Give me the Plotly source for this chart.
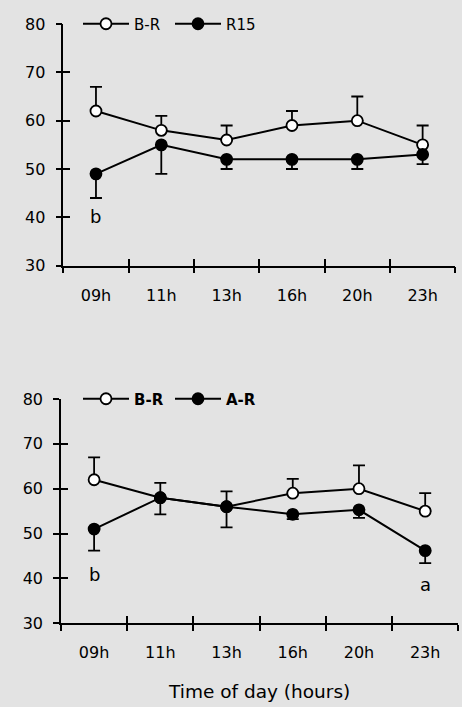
import plotly.graph_objects as go

# ---- data ----
times = ["09h", "11h", "13h", "16h", "20h", "23h"]

top_br = [62, 58, 56, 59, 60, 55]
top_br_err = [5, 3, 3, 3, 5, 4]
top_r15 = [49, 55, 52, 52, 52, 53]
top_r15_err = [5, 6, 2, 2, 2, 2]

bot_br = [62, 58, 56, 59, 60, 55]
bot_br_err = [5, 3.3, 3.4, 3.2, 5.2, 4]
bot_ar = [51, 58, 56, 54.3, 55.3, 46.2]
bot_ar_err = [4.8, 3.7, 4.6, 1.1, 1.8, 2.8]

y_ticks = [30, 40, 50, 60, 70, 80]
x_title = "Time of day (hours)"

BG = "#e3e3e3"
FONT = "DejaVu Sans"
W, H = 462, 707

xpos = list(range(len(times)))
bounds = [i - 0.5 for i in range(len(times) + 1)]
zeros = [0] * len(times)

fig = go.Figure()


def add_pair(xa, ya, legend, s1, e1, name1, s2, e2, name2):
    fig.add_trace(go.Scatter(
        x=xpos, y=s1, name=name1, mode="lines+markers",
        xaxis=xa, yaxis=ya, legend=legend,
        line=dict(color="black", width=2),
        marker=dict(symbol="circle", size=11, color="white",
                    line=dict(color="black", width=1.8)),
        error_y=dict(type="data", symmetric=False, array=e1, arrayminus=zeros,
                     color="black", thickness=1.8, width=6),
    ))
    fig.add_trace(go.Scatter(
        x=xpos, y=s2, name=name2, mode="lines+markers",
        xaxis=xa, yaxis=ya, legend=legend,
        line=dict(color="black", width=2),
        marker=dict(symbol="circle", size=11, color="black",
                    line=dict(color="black", width=1.8)),
        error_y=dict(type="data", symmetric=False, array=zeros, arrayminus=e2,
                     color="black", thickness=1.8, width=6),
    ))


add_pair("x", "y", "legend", top_br, top_br_err, "B-R", top_r15, top_r15_err, "R15")
add_pair("x2", "y2", "legend2", bot_br, bot_br_err, "<b>B-R</b>", bot_ar, bot_ar_err, "<b>A-R</b>")

# dummy traces so the overlay axes (inside tick halves) are drawn
for xa, ya in [("x3", "y"), ("x", "y3"), ("x4", "y2"), ("x2", "y4")]:
    fig.add_trace(go.Scatter(x=[None], y=[None], xaxis=xa, yaxis=ya,
                             showlegend=False, hoverinfo="skip"))

xr = [-0.5, len(times) - 0.5]
yr = [30, 80]

# inside tick halves: nudge the end ticks a hair inward so they are not dropped
inner_xvals = [b for b in bounds[1:-1]] + [bounds[-1] - 0.004]
inner_yvals = y_ticks[1:-1] + [y_ticks[-1] - 0.02]

top_xdom = [63.3 / W, 455.3 / W]
top_ydom = [(H - 265.7) / H, (H - 24) / H]
bot_xdom = [61 / W, 458.3 / W]
bot_ydom = [(H - 623.3) / H, (H - 399) / H]

tickfont = dict(family=FONT, size=16, color="black")


def main_x(dom, anchor, title=None):
    d = dict(domain=dom, anchor=anchor, range=xr, showgrid=False, zeroline=False,
             automargin=False,
             showline=True, linecolor="black", linewidth=1.5,
             tickmode="array", tickvals=xpos, ticktext=times, ticks="",
             tickfont=tickfont, ticklabelstandoff=14,
             minor=dict(tickmode="array", tickvals=bounds, ticks="outside",
                        ticklen=6, tickwidth=1.5, tickcolor="black", showgrid=False))
    if title:
        d["title"] = dict(text=title, font=dict(family=FONT, size=18.5, color="black"),
                          standoff=24)
    return d


def inner_x(dom, anchor, over):
    return dict(domain=dom, anchor=anchor, overlaying=over, range=xr, side="bottom",
                automargin=False,
                showgrid=False, zeroline=False, showline=False,
                tickmode="array", tickvals=inner_xvals, ticks="inside", ticklen=7,
                tickwidth=1.5, tickcolor="black", showticklabels=False)


def main_y(dom, anchor):
    return dict(domain=dom, anchor=anchor, range=yr, showgrid=False, zeroline=False,
                automargin=False,
                showline=True, linecolor="black", linewidth=1.5,
                tickmode="array", tickvals=y_ticks, ticks="outside", ticklen=6,
                tickwidth=1.5, tickcolor="black", tickfont=tickfont,
                ticklabelstandoff=7)


def inner_y(dom, anchor, over):
    return dict(domain=dom, anchor=anchor, overlaying=over, range=yr, side="left",
                automargin=False,
                showgrid=False, zeroline=False, showline=False,
                tickmode="array", tickvals=inner_yvals, ticks="inside", ticklen=7,
                tickwidth=1.5, tickcolor="black", showticklabels=False)


legend_common = dict(orientation="h", xanchor="left", yanchor="middle",
                     bgcolor="rgba(0,0,0,0)", borderwidth=0, itemclick=False,
                     itemdoubleclick=False, itemwidth=46, entrywidth=31)

fig.update_layout(
    template="none",
    width=W, height=H, margin=dict(l=0, r=0, t=0, b=0, pad=0, autoexpand=False),
    paper_bgcolor=BG, plot_bgcolor=BG,
    font=dict(family=FONT, color="black"),
    xaxis=main_x(top_xdom, "y"),
    yaxis=main_y(top_ydom, "x"),
    xaxis3=inner_x(top_xdom, "y", "x"),
    yaxis3=inner_y(top_ydom, "x", "y"),
    xaxis2=main_x(bot_xdom, "y2", x_title),
    yaxis2=main_y(bot_ydom, "x2"),
    xaxis4=inner_x(bot_xdom, "y2", "x2"),
    yaxis4=inner_y(bot_ydom, "x2", "y2"),
    legend=dict(x=78 / W, y=(H - 24) / H, font=dict(family=FONT, size=15, color="black"),
                **legend_common),
    legend2=dict(x=78 / W, y=(H - 399) / H, font=dict(family=FONT, size=15, color="black"),
                 **legend_common),
    showlegend=True,
)

annot_font = dict(family=FONT, size=18, color="black")
for xa, ya, xi, yv, txt in [("x", "y", 0, 40.2, "b"),
                            ("x2", "y2", 0, 40.8, "b"),
                            ("x2", "y2", 5, 38.6, "a")]:
    fig.add_annotation(x=xi, y=yv, xref=xa, yref=ya, text=txt, showarrow=False,
                       font=annot_font, xanchor="center", yanchor="middle")

fig.write_html("out.html")
